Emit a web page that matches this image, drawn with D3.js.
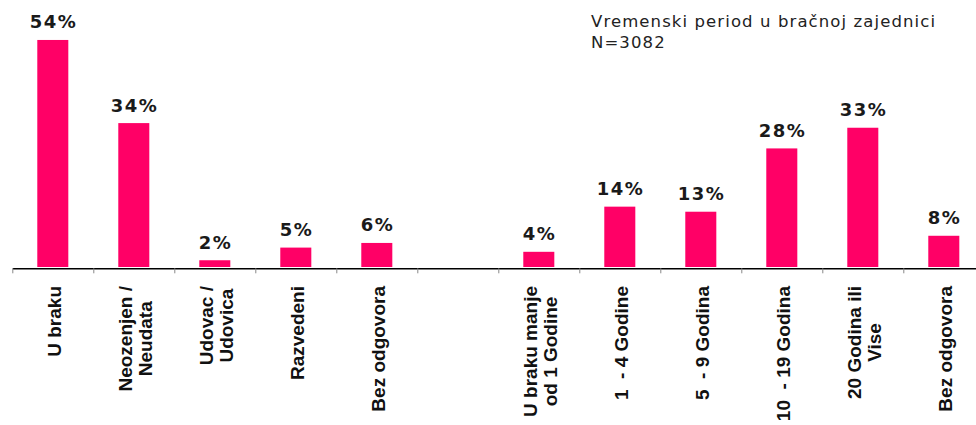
<!DOCTYPE html>
<html>
<head>
<meta charset="utf-8">
<script src="https://cdn.jsdelivr.net/npm/d3@7"></script>
<style>
  html, body { margin: 0; padding: 0; background: #fff; }
  svg { display: block; }
</style>
</head>
<body>
<svg id="chart" width="976" height="425"></svg>
<script>
// ---- data ----
const categories = [
  "U braku",
  "Neozenjen /\nNeudata",
  "Udovac /\nUdovica",
  "Razvedeni",
  "Bez odgovora",
  "",
  "U braku manje\nod 1 Godine",
  "1  - 4 Godine",
  "5  - 9 Godina",
  "10  - 19 Godina",
  "20 Godina ili\nVise",
  "Bez odgovora"
];
const values = [53.8, 34.1, 1.6, 4.6, 5.7, null, 3.6, 14.3, 13.1, 28.1, 33.0, 7.4];
const valueLabels = ["54%", "34%", "2%", "5%", "6%", "", "4%", "14%", "13%", "28%", "33%", "8%"];
const titleLines = ["Vremenski period u bračnoj zajednici", "N=3082"];

// ---- layout ----
const svg = d3.select("#chart");
const baseY = 267;
const left = 12.3, step = 81;
const idx = d3.range(categories.length);

const x = d3.scaleBand()
  .domain(idx)
  .range([left, left + step * categories.length])
  .paddingInner(0.617)
  .paddingOuter(0.3085);

const edges = d3.scalePoint()
  .domain(d3.range(categories.length + 1))
  .range([left, left + step * categories.length]);

const y = d3.scaleLinear().domain([0, 60]).range([baseY, baseY - 4.22 * 60]);

// bars
const data = idx.filter(i => values[i] != null);
svg.append("g").selectAll("rect").data(data).join("rect")
  .attr("x", i => x(i))
  .attr("width", x.bandwidth())
  .attr("y", i => y(values[i]))
  .attr("height", i => y(0) - y(values[i]))
  .attr("fill", "#ff0066");

// value labels
const lsVal = 1.5;
svg.append("g").selectAll("text").data(data).join("text")
  .attr("x", i => x(i) + x.bandwidth() / 2 + lsVal / 2)
  .attr("y", i => y(values[i]) - 11.5)
  .attr("text-anchor", "middle")
  .attr("font-family", "DejaVu Sans, Verdana, sans-serif")
  .attr("font-weight", "bold")
  .attr("font-size", "18px")
  .attr("letter-spacing", lsVal + "px")
  .attr("fill", "#1a1a1a")
  .text(i => valueLabels[i]);

// axis
const axisG = svg.append("g")
  .attr("transform", `translate(0,${baseY + 1.3})`)
  .call(d3.axisBottom(edges).tickSize(5).tickSizeOuter(0).tickFormat(""));
axisG.select(".domain").attr("stroke", "#000").attr("stroke-width", 1.5);
axisG.selectAll(".tick line").attr("stroke", "#888").attr("stroke-width", 1);

// category labels (rotated)
const labelFont = 19;
const catG = svg.append("g").selectAll("g").data(idx.filter(i => categories[i] !== "")).join("g")
  .attr("transform", i => `translate(${x(i) + x.bandwidth() / 2},286) rotate(-90)`);

catG.each(function(i) {
  const g = d3.select(this);
  const lines = categories[i].split("\n");
  const n = lines.length;
  const texts = lines.map((ln, k) => g.append("text")
    .attr("font-family", "Liberation Sans, Arial, sans-serif")
    .attr("font-weight", "bold")
    .attr("font-size", labelFont + "px")
    .attr("fill", "#111")
    .attr("text-anchor", "middle")
    .attr("y", (k - (n - 1) / 2) * 20 + 8)
    .attr("xml:space", "preserve")
    .style("white-space", "pre")
    .text(ln));
  const W = d3.max(texts, t => t.node().getComputedTextLength());
  texts.forEach(t => t.attr("x", -W / 2));
});

// title
svg.append("g").selectAll("text").data(titleLines).join("text")
  .attr("x", 591)
  .attr("y", (d, k) => 26.7 + k * 21)
  .attr("font-family", "DejaVu Sans, Verdana, sans-serif")
  .attr("font-size", "16.5px")
  .attr("letter-spacing", "1.1px")
  .attr("fill", "#222")
  .text(d => d);
</script>
</body>
</html>
